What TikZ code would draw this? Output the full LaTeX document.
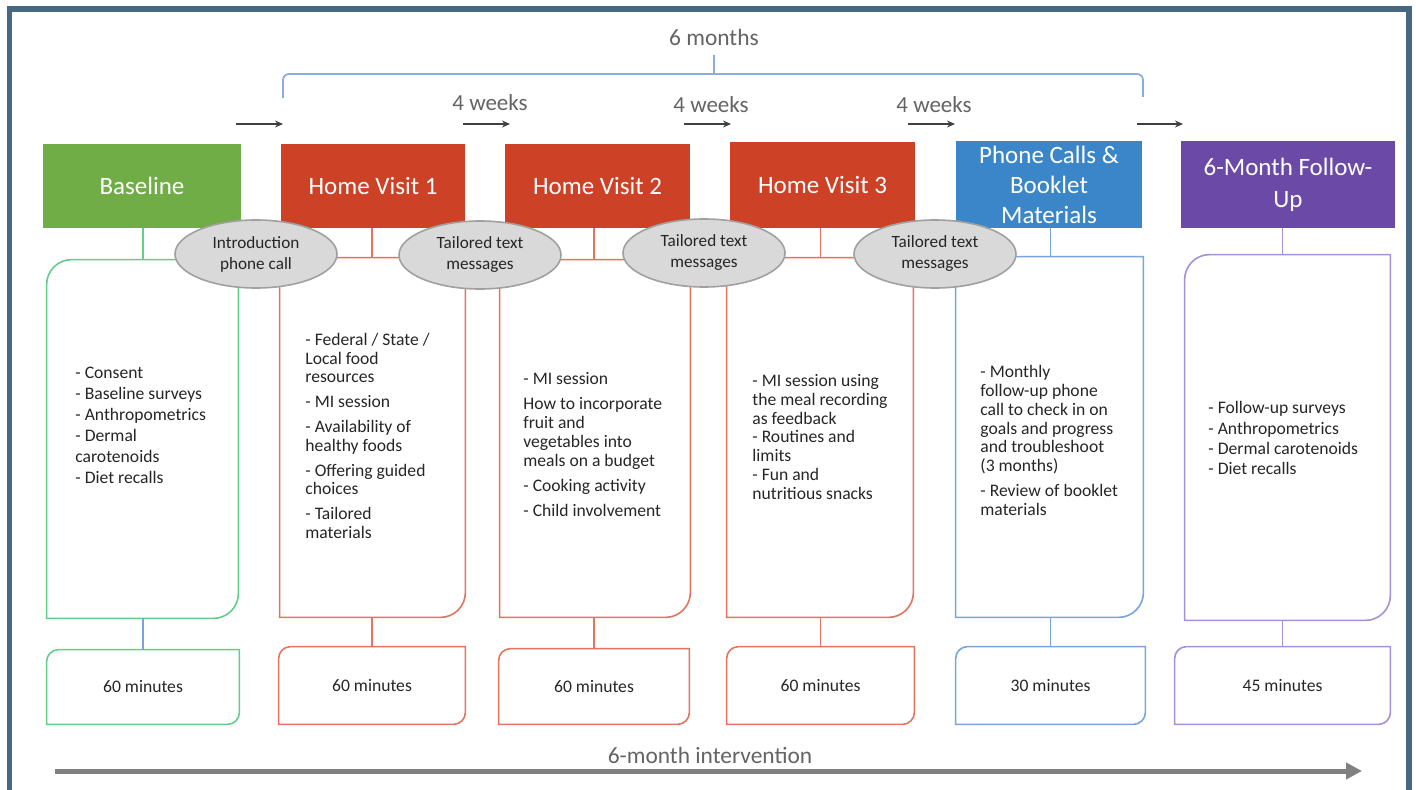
\documentclass[tikz,border=0pt]{standalone}
\usepackage{fontspec}
\setmainfont{Carlito}
\usetikzlibrary{arrows.meta,shapes.geometric}
\definecolor{frame}{RGB}{70,104,128}
\definecolor{hgreen}{RGB}{112,173,71}
\definecolor{hred}{RGB}{205,66,38}
\definecolor{hblue}{RGB}{58,134,200}
\definecolor{hpurple}{RGB}{106,74,166}
\definecolor{lgreen}{RGB}{100,205,140}
\definecolor{lred}{RGB}{230,115,95}
\definecolor{lblue}{RGB}{120,165,225}
\definecolor{lpurple}{RGB}{165,145,215}
\definecolor{ellfill}{RGB}{217,217,217}
\definecolor{elldraw}{RGB}{160,160,160}
\definecolor{txt}{RGB}{38,38,38}
\definecolor{gtxt}{RGB}{100,100,100}
\definecolor{brk}{RGB}{140,172,222}
\definecolor{bigarrow}{RGB}{128,128,128}
\definecolor{smarrow}{RGB}{64,64,64}
\newcommand{\dbox}[3]{%
  \draw[#3] (#1.south west) -- ([yshift=-#2]#1.north west)
    arc[start angle=180,end angle=90,radius=#2] -- (#1.north east)
    -- ([yshift=#2]#1.south east) arc[start angle=0,end angle=-90,radius=#2] -- cycle;}
\begin{document}
\begin{tikzpicture}[x=0.5pt,y=-0.5pt,
  hdr/.style={rectangle, inner sep=0pt, text=white, align=center, font=\fontsize{12.5}{15}\selectfont},
  cbox/.style={rectangle, inner sep=0pt},
  body/.style={inner sep=0pt, anchor=north west, align=left, text=txt},
  mins/.style={rectangle, inner sep=0pt, text=txt, font=\fontsize{8.8}{10}\selectfont},
  bubble/.style={ellipse, fill=ellfill, draw=elldraw, line width=0.8pt, inner sep=0pt,
     minimum width=81pt, minimum height=34pt, align=center, text=txt, font=\fontsize{8.6}{10.5}\selectfont},
  lw/.style={line width=0.8pt},
  gray label/.style={text=gtxt, font=\fontsize{11.5}{14}\selectfont},
  small arrow/.style={draw=smarrow, line width=0.6pt, -{Stealth[length=4pt,width=3.5pt]}}
]
\useasboundingbox (0,0) rectangle (1416,790);
\fill[white] (0,0) rectangle (1416,790);
\draw[frame, line width=2.8pt, line join=miter] (9.5,790) -- (9.5,9) -- (1409,9) -- (1409,790);

% headers
\node[hdr, fill=hgreen, minimum width=99pt, minimum height=42pt] (hb) at (142,186) {Baseline};
\node[hdr, fill=hred, minimum width=92pt, minimum height=42pt] (h1) at (373,186) {Home Visit 1};
\node[hdr, fill=hred, minimum width=92.5pt, minimum height=42pt] (h2) at (597.5,186) {Home Visit 2};
\node[hdr, fill=hred, minimum width=92.5pt, minimum height=43pt] (h3) at (822.5,185) {Home Visit 3};
\node[hdr, fill=hblue, minimum width=93pt, minimum height=43.5pt] (hp) at (1049,184.5) {Phone Calls \&\\Booklet\\Materials};
\node[hdr, fill=hpurple, minimum width=107pt, minimum height=43.5pt, font=\fontsize{12.5}{16}\selectfont] (hf) at (1288,184.5) {6-Month Follow-\\Up};

% content boxes
\node[cbox, minimum width=95.5pt, minimum height=179pt] (cb) at (142.5,439) {};
\node[cbox, minimum width=92.5pt, minimum height=179.5pt] (c1) at (372.5,437.5) {};
\node[cbox, minimum width=95pt, minimum height=178.5pt] (c2) at (595,438.5) {};
\node[cbox, minimum width=93pt, minimum height=179.5pt] (c3) at (820,437.5) {};
\node[cbox, minimum width=93.5pt, minimum height=180pt] (cp) at (1049.5,437) {};
\node[cbox, minimum width=102.5pt, minimum height=182.5pt] (cf) at (1287.5,437.5) {};
\dbox{cb}{12.5pt}{lgreen, lw}
\dbox{c1}{12.5pt}{lred, lw}
\dbox{c2}{12.5pt}{lred, lw}
\dbox{c3}{12.5pt}{lred, lw}
\dbox{cp}{12.5pt}{lblue, lw}
\dbox{cf}{12.5pt}{lpurple, lw}

% minutes boxes
\node[mins, minimum width=96pt, minimum height=37pt] (mb) at (143,687) {60 minutes};
\node[mins, minimum width=93pt, minimum height=38.5pt] (m1) at (372,685.5) {60 minutes};
\node[mins, minimum width=95pt, minimum height=37.5pt] (m2) at (594,686.5) {60 minutes};
\node[mins, minimum width=93.5pt, minimum height=38.5pt] (m3) at (820.5,685.5) {60 minutes};
\node[mins, minimum width=94.5pt, minimum height=38.5pt] (mp) at (1050.5,685.5) {30 minutes};
\node[mins, minimum width=107.5pt, minimum height=38.5pt] (mf) at (1282.5,685.5) {45 minutes};
\dbox{mb}{6pt}{lgreen, lw}
\dbox{m1}{6pt}{lred, lw}
\dbox{m2}{6pt}{lred, lw}
\dbox{m3}{6pt}{lred, lw}
\dbox{mp}{6pt}{lblue, lw}
\dbox{mf}{6pt}{lpurple, lw}

% stems
\draw[lgreen, lw] (mb.north |- hb.south) -- (mb.north |- cb.north);
\draw[lblue, lw] (mb.north |- cb.south) -- (mb.north);
\draw[lred, lw] (m1.north |- h1.south) -- (m1.north |- c1.north);
\draw[lred, lw] (m1.north |- c1.south) -- (m1.north);
\draw[lred, lw] (m2.north |- h2.south) -- (m2.north |- c2.north);
\draw[lred, lw] (m2.north |- c2.south) -- (m2.north);
\draw[lred, lw] (m3.north |- h3.south) -- (m3.north |- c3.north);
\draw[lred, lw] (m3.north |- c3.south) -- (m3.north);
\draw[lblue, lw] (mp.north |- hp.south) -- (mp.north |- cp.north);
\draw[lblue, lw] (mp.north |- cp.south) -- (mp.north);
\draw[lpurple, lw] (mf.north |- hf.south) -- (mf.north |- cf.north);
\draw[lpurple, lw] (mf.north |- cf.south) -- (mf.north);

% body texts
\node[body, font=\fontsize{8.8}{10.5}\selectfont] (tb) at (75,367)
  {- Consent\\- Baseline surveys\\- Anthropometrics\\- Dermal\\carotenoids\\- Diet recalls};
\node[body, font=\fontsize{8.8}{9.25}\selectfont] (t1) at (305,333)
  {- Federal / State /\\Local food\\resources\\[3.25pt]- MI session\\[3.25pt]- Availability of\\healthy foods\\[3.25pt]- Offering guided\\choices\\[3.25pt]- Tailored\\materials};
\node[body, font=\fontsize{8.8}{9.5}\selectfont] (t2) at (523,372)
  {- MI session\\[3pt]How to incorporate\\fruit and\\vegetables into\\meals on a budget\\[3pt]- Cooking activity\\[3pt]- Child involvement};
\node[body, font=\fontsize{8.8}{9.4}\selectfont] (t3) at (752,374)
  {- MI session using\\the meal recording\\as feedback\\- Routines and\\limits\\- Fun and\\nutritious snacks};
\node[body, font=\fontsize{8.8}{9.4}\selectfont] (tp) at (980,365)
  {- Monthly\\follow-up phone\\call to check in on\\goals and progress\\and troubleshoot\\(3 months)\\[3.1pt]- Review of booklet\\materials};
\node[body, font=\fontsize{8.8}{10.2}\selectfont] (tf) at (1208,401)
  {- Follow-up surveys\\- Anthropometrics\\- Dermal carotenoids\\- Diet recalls};

% bubbles
\node[bubble] (e1) at (256,254) {Introduction\\phone call};
\node[bubble] (e2) at (480,255) {Tailored text\\messages};
\node[bubble] (e3) at (704,253) {Tailored text\\messages};
\node[bubble] (e4) at (935,254) {Tailored text\\messages};

% top bracket
\node[gray label, font=\fontsize{11.7}{14}\selectfont] (six) at (714,37) {6 months};
\coordinate (bl) at (283,98);
\coordinate (br) at (1143,97);
\coordinate (bm) at (714,74);
\draw[brk, line width=0.9pt, rounded corners=3pt] (bl) -- (bl |- bm) -- (br |- bm) -- (br);
\draw[brk, line width=0.9pt] (bm) -- ([yshift=-1.5pt]six.south);

% 4 weeks labels and arrows
\node[gray label] (w1) at (490,103) {4 weeks};
\node[gray label] (w2) at (711,105) {4 weeks};
\node[gray label] (w3) at (934,105) {4 weeks};
\coordinate (a0s) at (236,124); \coordinate (a0e) at (283,124);
\coordinate (a1s) at (463,124); \coordinate (a1e) at (510,124);
\coordinate (a2s) at (684,124); \coordinate (a2e) at (731,124);
\coordinate (a3s) at (908,124); \coordinate (a3e) at (955,124);
\coordinate (a4s) at (1137,124); \coordinate (a4e) at (1183,124);
\draw[small arrow] (a0s) -- (a0e);
\draw[small arrow] (a1s) -- (a1e);
\draw[small arrow] (a2s) -- (a2e);
\draw[small arrow] (a3s) -- (a3e);
\draw[small arrow] (a4s) -- (a4e);

% timeline
\node[gray label, font=\fontsize{11.7}{14}\selectfont] (intv) at (710,755) {6-month intervention};
\coordinate (ta) at (55,771);
\coordinate (tz) at (1362,771);
\draw[bigarrow, line width=2.5pt, -{Triangle[length=8pt,width=8pt]}] (ta) -- (tz);
\end{tikzpicture}
\end{document}
